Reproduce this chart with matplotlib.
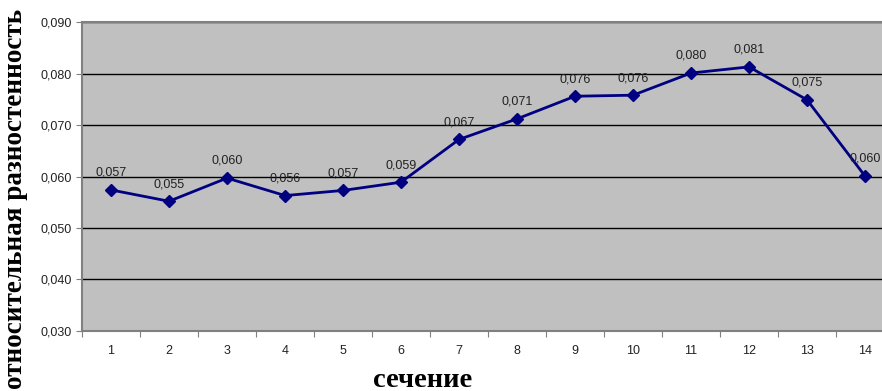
import numpy as np
import matplotlib
matplotlib.use("Agg")
import matplotlib.pyplot as plt

# сечения и значения относительной разностенности
sections = list(range(1, 15))
values = [0.0574, 0.0552, 0.0597, 0.0563, 0.0573, 0.0589, 0.0672,
          0.0712, 0.0756, 0.0758, 0.0801, 0.0813, 0.0749, 0.0601]
y_ticks = [0.030, 0.040, 0.050, 0.060, 0.070, 0.080, 0.090]


def comma(v):
    return ("%.3f" % v).replace(".", ",")


fig = plt.figure(figsize=(8.82, 3.91), dpi=100)
ax = fig.add_axes([0.093, 0.1535, 0.9206, 0.790])
ax.set_facecolor("#c0c0c0")

ax.plot(sections, values, color="#000080", lw=2, marker="D", ms=6, zorder=3)
for x, v in zip(sections, values):
    ax.annotate(comma(v), (x, v), xytext=(0, 8), textcoords="offset points",
                ha="center", va="bottom", fontsize=9,
                family="Liberation Sans", color="#222222")

ax.set_xlim(0.5, 14.5)
ax.set_ylim(0.030, 0.090)
ax.set_yticks(y_ticks)
ax.set_yticklabels([comma(v) for v in y_ticks], family="Liberation Sans",
                   fontsize=9, color="#222222")
ax.yaxis.grid(True, color="black", lw=1)
ax.set_axisbelow(True)

ax.set_xticks(np.arange(0.5, 15, 1))
ax.set_xticklabels([])
ax.set_xticks(sections, minor=True)
ax.set_xticklabels([str(s) for s in sections], minor=True,
                   family="Liberation Sans", fontsize=9, color="#222222")
ax.tick_params(axis="x", which="minor", length=0, pad=10)
ax.tick_params(axis="both", which="major", length=4, color="#808080", direction="out")

for s in ["left", "bottom", "top", "right"]:
    ax.spines[s].set_color("#808080")
    ax.spines[s].set_linewidth(1.5)

fig.text(0.018, 0.49, "относительная разностенность", rotation=90,
         ha="center", va="center", fontsize=19.5, fontweight="bold",
         family="Liberation Serif")
fig.text(0.479, 0.028, "сечение", ha="center", va="center", fontsize=20.5,
         fontweight="bold", family="Liberation Serif")

fig.savefig("out.png", dpi=100)
